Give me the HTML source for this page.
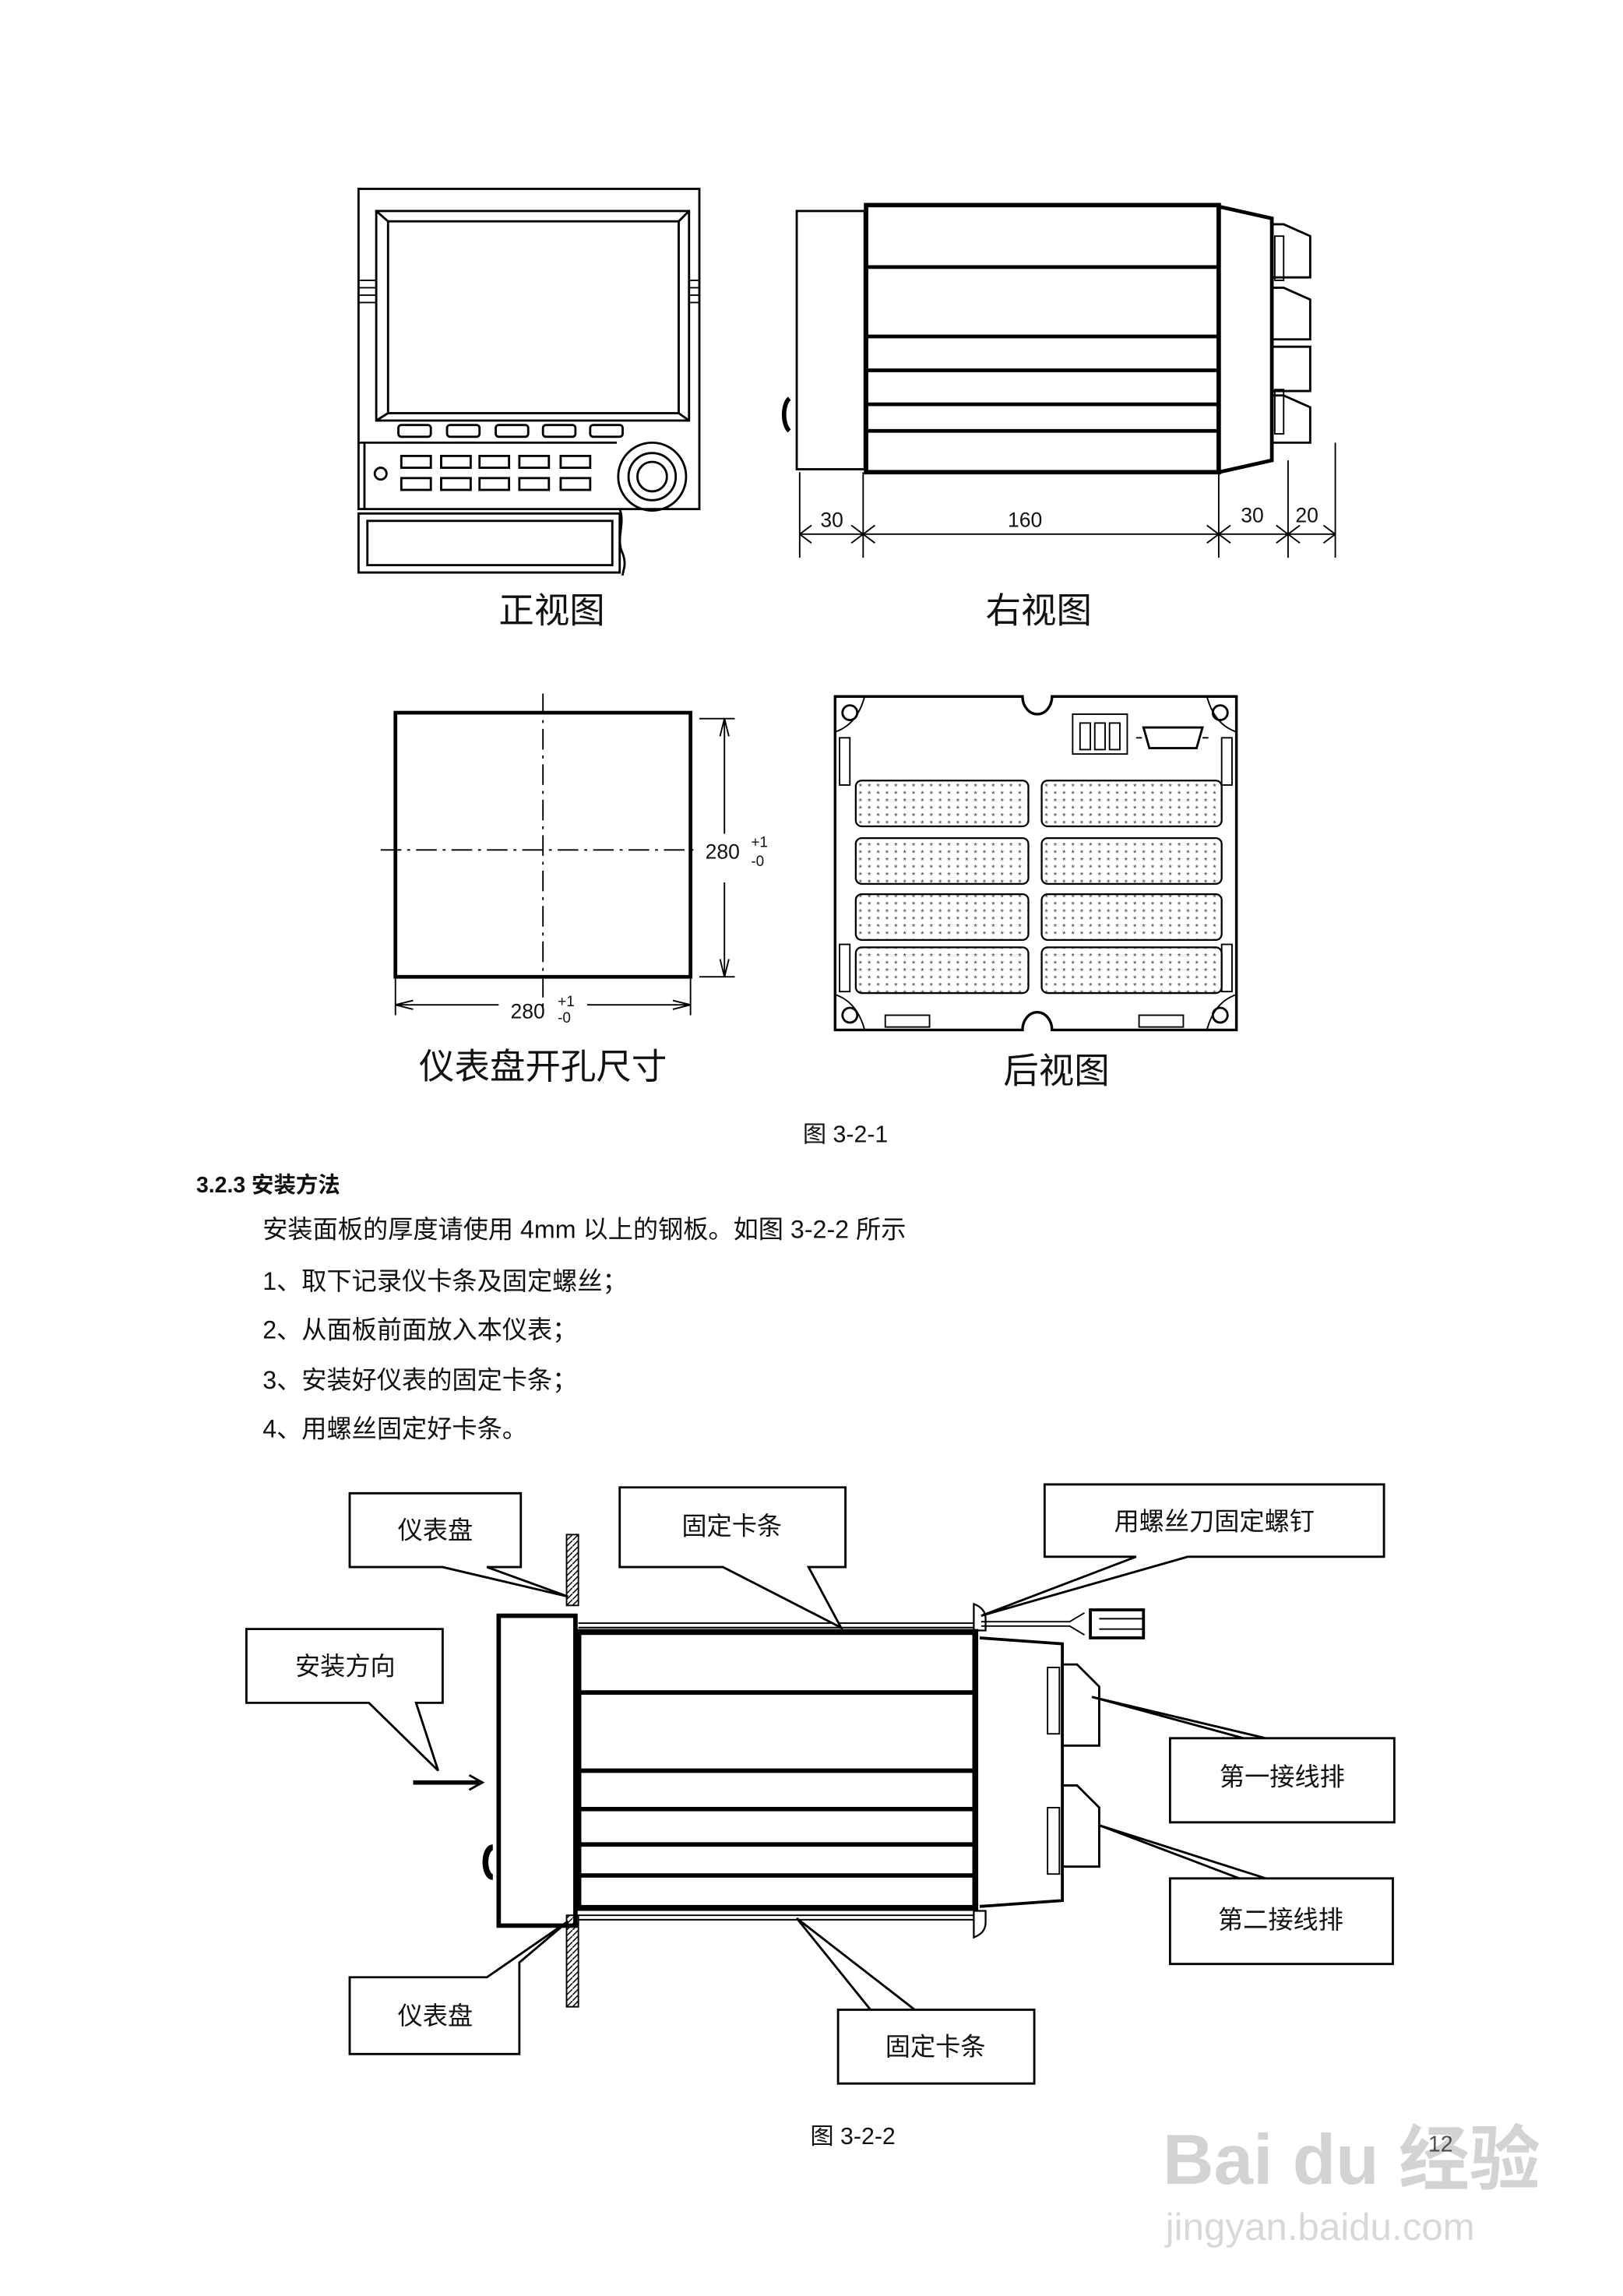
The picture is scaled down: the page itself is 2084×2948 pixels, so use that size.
<!DOCTYPE html>
<html><head><meta charset="utf-8"><style>
html,body{margin:0;padding:0;background:#fff}
svg{display:block}
text{font-family:"Liberation Sans","Noto Sans CJK SC",sans-serif;fill:#111}
.s{font-family:"Liberation Serif","Noto Serif CJK SC",serif}
</style></head><body>
<svg width="2084" height="2948" viewBox="0 0 1100 1556" preserveAspectRatio="none" xmlns="http://www.w3.org/2000/svg">
<defs>
<pattern id="h" width="4" height="4" patternUnits="userSpaceOnUse"><path d="M0 4L4 0" stroke="#000" stroke-width="0.8"/></pattern>
<pattern id="dots" width="6" height="5" patternUnits="userSpaceOnUse"><text x="0" y="5" font-size="6" style="fill:#333">*</text></pattern>
</defs>
<g fill="none" stroke="#000" stroke-width="1.5">
<rect x="243" y="128" width="231" height="217"/>
<rect x="255" y="143" width="212" height="142"/>
<rect x="263" y="150" width="197" height="130"/>
<path d="M255 143L263 150M467 143L460 150M255 285L263 280M467 285L460 280"/>
<g stroke-width="1"><path d="M243 190h12M243 195h12M243 200h12M243 205h12M467 190h7M467 195h7M467 200h7M467 205h7"/></g>
<rect x="270" y="288" width="22" height="8" rx="2"/><rect x="303" y="288" width="22" height="8" rx="2"/><rect x="336" y="288" width="22" height="8" rx="2"/><rect x="368" y="288" width="22" height="8" rx="2"/><rect x="400" y="288" width="22" height="8" rx="2"/>
<path d="M243 300h175M247 300v45"/>
<rect x="272" y="309" width="20" height="8"/><rect x="299" y="309" width="20" height="8"/><rect x="325" y="309" width="20" height="8"/><rect x="352" y="309" width="20" height="8"/><rect x="380" y="309" width="20" height="8"/>
<rect x="272" y="324" width="20" height="8"/><rect x="299" y="324" width="20" height="8"/><rect x="325" y="324" width="20" height="8"/><rect x="352" y="324" width="20" height="8"/><rect x="380" y="324" width="20" height="8"/>
<circle cx="258" cy="321" r="4"/>
<circle cx="442" cy="323" r="23"/><circle cx="442" cy="323" r="16"/><circle cx="442" cy="323" r="10"/>
<rect x="243" y="348" width="177" height="40"/><rect x="249" y="353" width="166" height="30"/>
<path d="M420 345c4 10-3 20 2 30c3 8 0 12 0 15"/>
<rect x="540" y="143" width="46" height="175"/>
<rect x="587" y="139" width="239" height="181" stroke-width="3"/>
<path d="M587 181h239M587 228h239M587 251h239M587 274h239M587 292h239" stroke-width="2.5"/>
<path d="M826 140L862 148V312L826 320" stroke-width="2.5"/>
<path d="M862 152h8l18 8v28h-26M862 195h8l18 8v27h-26M862 235h26v30h-26M862 268h8l18 8v24h-26"/>
<g stroke-width="1"><path d="M864 160h6v30h-6zM864 264h6v30h-6z"/></g>
<path d="M535 270a6 12 0 0 0 0 22" stroke-width="3"/>
<g stroke-width="1"><path d="M542 320v58M585 320v58M826 320v58M873 312v66M905 300v78M542 362H905"/>
<path d="M542 362l8-6M542 362l8 6M585 362l-8-6M585 362l-8 6M585 362l8-6M585 362l8 6M826 362l-8-6M826 362l-8 6M826 362l8-6M826 362l8 6M873 362l-8-6M873 362l-8 6M873 362l8-6M873 362l8 6M905 362l-8-6M905 362l-8 6"/></g>
<rect x="268" y="483" width="200" height="179" stroke-width="2.5"/>
<g stroke-width="1" stroke-dasharray="14 4 2 4"><path d="M368 470V688M258 576H472"/></g>
<g stroke-width="1"><path d="M474 487h24M474 662h24M491 487V565M491 598V662M491 487l-3 12M491 487l3 12M491 662l-3-12M491 662l3-12"/>
<path d="M268 662v26M468 662v26M268 681h70M398 681h70M268 681l12-3M268 681l12 3M468 681l-12-3M468 681l-12 3"/></g>
<path d="M566 472H693a10 12 0 0 0 20 0H838V698H713a10 12 0 0 0-20 0H566Z" stroke-width="1.8"/>
<circle cx="576" cy="483" r="5"/><circle cx="827" cy="483" r="5"/><circle cx="576" cy="688" r="5"/><circle cx="827" cy="688" r="5"/>
<path d="M566 496q15-5 20-24M838 496q-15-5-20-24M566 674q15 5 20 24M838 674q-15 5-20 24" stroke-width="1"/>
<rect x="727" y="484" width="37" height="27" stroke-width="1"/>
<rect x="732" y="490" width="7" height="18" stroke-width="1"/><rect x="742" y="490" width="7" height="18" stroke-width="1"/><rect x="752" y="490" width="7" height="18" stroke-width="1"/>
<path d="M775 493h40l-4 14h-32z" stroke-width="1.5"/><path d="M770 500h4M815 500h4" stroke-width="1"/>
<g stroke-width="1"><rect x="569" y="500" width="7" height="32"/><rect x="828" y="500" width="7" height="32"/><rect x="569" y="640" width="7" height="32"/><rect x="828" y="640" width="7" height="32"/><rect x="600" y="688" width="30" height="8"/><rect x="772" y="688" width="30" height="8"/></g>
<g stroke-width="1.2">
<rect x="580" y="529" width="117" height="31" rx="4" fill="url(#dots)"/><rect x="706" y="529" width="122" height="31" rx="4" fill="url(#dots)"/>
<rect x="580" y="568" width="117" height="31" rx="4" fill="url(#dots)"/><rect x="706" y="568" width="122" height="31" rx="4" fill="url(#dots)"/>
<rect x="580" y="606" width="117" height="31" rx="4" fill="url(#dots)"/><rect x="706" y="606" width="122" height="31" rx="4" fill="url(#dots)"/>
<rect x="580" y="642" width="117" height="31" rx="4" fill="url(#dots)"/><rect x="706" y="642" width="122" height="31" rx="4" fill="url(#dots)"/>
</g>
</g>
<g font-size="14">
<text x="556" y="357">30</text><text x="683" y="357">160</text><text x="841" y="354">30</text><text x="878" y="354">20</text>
<text x="478" y="582">280</text><text x="509" y="574" font-size="10">+1</text><text x="509" y="587" font-size="10">-0</text>
<text x="346" y="690">280</text><text x="378" y="682" font-size="10">+1</text><text x="378" y="693" font-size="10">-0</text>
</g>
<g font-size="24" text-anchor="middle">
<text x="374" y="422">正视图</text><text x="704" y="422">右视图</text>
<text x="368" y="731">仪表盘开孔尺寸</text><text x="716" y="734">后视图</text>
</g>
<text x="573" y="774" font-size="16" text-anchor="middle">图 3-2-1</text>
<text x="133" y="808" font-size="15" font-weight="bold">3.2.3 安装方法</text>
<g font-size="17">
<text x="178" y="839">安装面板的厚度请使用 4mm 以上的钢板。如图 3-2-2 所示</text>
<text x="178" y="874">1、取下记录仪卡条及固定螺丝；</text>
<text x="178" y="907">2、从面板前面放入本仪表；</text>
<text x="178" y="941">3、安装好仪表的固定卡条；</text>
<text x="178" y="974">4、用螺丝固定好卡条。</text>
</g>
<g fill="none" stroke="#000" stroke-width="1.5">
<rect x="384" y="1040" width="8" height="48" fill="url(#h)" stroke-width="1"/>
<rect x="384" y="1298" width="8" height="62" fill="url(#h)" stroke-width="1"/>
<rect x="338" y="1095" width="52" height="210" stroke-width="3"/>
<path d="M334 1252a5 10 0 0 0 0 20" stroke-width="4"/>
<rect x="392" y="1106" width="269" height="187" stroke-width="4"/>
<path d="M392 1147h269M392 1200h269M392 1226h269M392 1250h269M392 1271h269" stroke-width="3"/>
<path d="M392 1100h268M392 1103h268M392 1298h268M392 1301h268" stroke-width="1"/>
<path d="M664 1110L720 1114V1288L664 1292" stroke-width="2"/>
<path d="M720 1128h10l15 15v40h-25M720 1210h10l15 15v40h-25" stroke-width="1.5"/>
<g stroke-width="1"><path d="M710 1130h8v45h-8zM710 1225h8v45h-8z"/></g>
<path d="M660 1087q8 3 8 10v8h-8zM660 1295h8v8q0 7-8 10z" stroke-width="1.2"/>
<path d="M665 1099h60l10 -6M665 1102h60l10 6" stroke-width="1"/>
<rect x="739" y="1091" width="36" height="19" stroke-width="2"/><path d="M745 1097h30M745 1104h30" stroke-width="1"/>
<path d="M280 1208h45" stroke-width="3"/><path d="M318 1203l9 5-9 5" stroke-width="1.5"/>
</g>
<g fill="#fff" stroke="#000" stroke-width="1.5">
<path d="M237 1012H353V1062H330L385 1082L300 1062H237Z"/>
<path d="M420 1008H573V1062H548L570 1103L490 1062H420Z"/>
<path d="M708 1006H938V1055H805L665 1095L770 1055H708Z"/>
<path d="M167 1104H300V1154H282L297 1200L250 1154H167Z"/>
<path d="M793 1178H945V1235H793V1178H858L740 1150L843 1178Z"/>
<path d="M793 1273H944V1331H793V1273H858L745 1237L840 1273Z"/>
<path d="M237 1340H330L385 1302L352 1330V1392H237Z"/>
<path d="M568 1362H701V1412H568V1362H620L540 1300L590 1362Z"/>
</g>
<g font-size="17" text-anchor="middle" class="s">
<text x="295" y="1043">仪表盘</text><text x="496" y="1040">固定卡条</text><text x="823" y="1037">用螺丝刀固定螺钉</text>
<text x="234" y="1135">安装方向</text><text x="869" y="1210">第一接线排</text><text x="868" y="1307">第二接线排</text>
<text x="295" y="1372">仪表盘</text><text x="634" y="1393">固定卡条</text>
</g>
<text x="578" y="1453" font-size="16" text-anchor="middle">图 3-2-2</text>
<text x="968" y="1458" font-size="15" style="fill:#555">12</text>
<g font-size="48" font-weight="bold" style="opacity:.18"><text x="788" y="1480">Bai du 经验</text></g>
<text x="790" y="1518" font-size="26" style="fill:#000;opacity:.15">jingyan.baidu.com</text>
</svg>
</body></html>
